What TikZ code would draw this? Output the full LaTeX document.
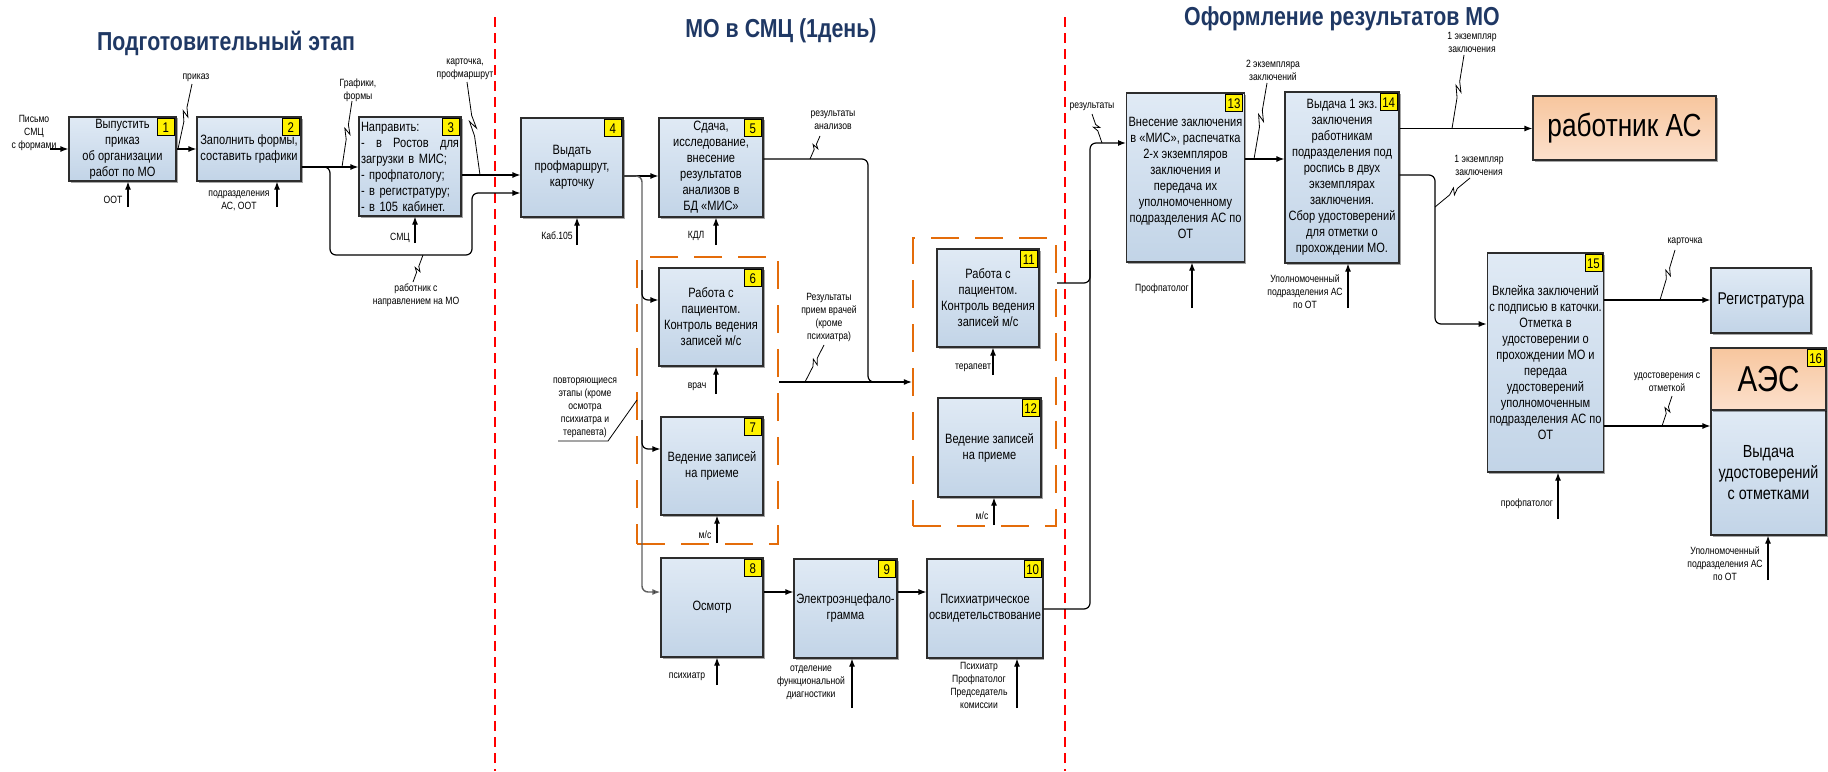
\documentclass[tikz,border=0pt]{standalone}
\usepackage{fontspec}
\setmainfont[FakeStretch=0.82]{Liberation Sans}
\usetikzlibrary{arrows.meta,calc,shadows}
\definecolor{boxtop}{RGB}{224,234,245}
\definecolor{boxbot}{RGB}{194,212,231}
\definecolor{peachtop}{RGB}{247,198,158}
\definecolor{peachbot}{RGB}{252,224,204}
\definecolor{titleblue}{RGB}{31,56,100}
\definecolor{grpor}{RGB}{228,108,10}
\definecolor{sepred}{RGB}{255,0,0}
\definecolor{branchgray}{RGB}{95,95,95}
\tikzset{
  box/.style={draw={rgb,255:red,45;green,45;blue,45}, line width=1.2pt, top color=boxtop, bottom color=boxbot,
    inner sep=2pt, align=center, font=\fontsize{13.5}{16}\selectfont,
    drop shadow={shadow xshift=1.5pt,shadow yshift=-1.5pt,opacity=0.35,fill=black}},
  peach/.style={box, top color=peachtop, bottom color=peachbot},
  badge/.style={draw, line width=0.8pt, fill=yellow, minimum width=17pt, minimum height=17pt, inner sep=1pt,
    font=\fontsize{14}{14}\selectfont, anchor=north east},
  lbl/.style={font=\fontsize{10.5}{13}\selectfont, align=center, inner sep=0pt},
  ttl/.style={font=\fontsize{26}{30}\bfseries\selectfont, text=titleblue, inner sep=0pt},
  ln/.style={line width=1.2pt},
  conn/.style={line width=1.2pt, -{Latex[length=8pt,width=6pt]}},
  rc/.style={rounded corners=6pt},
  brn/.style={line width=1.4pt, draw=branchgray},
  grp/.style={draw=grpor, line width=2.3pt, dash pattern=on 28pt off 16pt, inner sep=0pt},
  sepline/.style={draw=sepred, line width=2.2pt, dash pattern=on 10pt off 6pt},
  leader/.style={line width=0.8pt}
}
\newcommand{\squig}[2]{\draw[leader] #1 -- ($#1!0.42!#2$) -- ($#1!0.58!#2!3pt!90:#2$) -- ($#1!0.50!#2!3pt!-90:#2$) -- ($#1!0.64!#2$) -- #2;}
\newcommand{\bx}[5]{\node[box, minimum width=#3pt, minimum height=#4pt] (#1) at (#2) {#5};}
\newcommand{\badge}[3]{\node[badge] (#1) at ($(#2.north east)+(-2,2)$) {#3};}
\begin{document}
\begin{tikzpicture}[x=1pt,y=-1pt]
\useasboundingbox (0,0) rectangle (1828,771);
% separators
\draw[sepline] (495,17) -- (495,771);
\draw[sepline] (1065,17) -- (1065,771);
% titles
\node[ttl] (t1) at (226,43) {Подготовительный этап};
\node[ttl] (t2) at (781,31) {МО в СМЦ (1день)};
\node[ttl] (t3) at (1342,19) {Оформление результатов МО};
% groups
\node[grp, minimum width=141pt, minimum height=287pt] (g1) at (707.5,400.5) {};
\node[grp, minimum width=143pt, minimum height=288pt] (g2) at (984.5,382) {};
% boxes
\bx{b1}{122.5,149}{107}{64}{Выпустить\\приказ\\об организации\\работ по МО}
\bx{b2}{249,149}{104}{64}{Заполнить формы,\\составить графики}
\node[box, align=left, text width=98pt, minimum height=99pt] (b3) at (410,166.5)
  {Направить:\\-\hfill в\hfill Ростов\hfill для\\загрузки в МИС;\\- профпатологу;\\- в регистратуру;\\- в 105 кабинет.};
\bx{b4}{572,167.5}{102}{99}{Выдать\\профмаршрут,\\карточку}
\bx{b5}{711,167.5}{104}{99}{Сдача,\\исследование,\\внесение\\результатов\\анализов в\\БД «МИС»}
\bx{b6}{711,317}{104}{98}{Работа с\\пациентом.\\Контроль ведения\\записей м/с}
\bx{b7}{712,466}{102}{98}{Ведение записей\\на приеме}
\bx{b8}{712,607.5}{102}{99}{Осмотр}
\bx{b9}{845.5,608.5}{103}{99}{Электроэнцефало-\\грамма}
\bx{b10}{985,608.5}{114}{99}{Психиатрическое\\освидетельствование}
\bx{b11}{988,298}{102}{98}{Работа с\\пациентом.\\Контроль ведения\\записей м/с}
\bx{b12}{989.5,447.5}{103}{99}{Ведение записей\\на приеме}
\bx{b13}{1185.5,177.5}{115}{169}{Внесение заключения\\в «МИС», распечатка\\2-х экземпляров\\заключения и\\передача их\\уполномоченному\\подразделения АС по\\ОТ}
\bx{b14}{1342,177.5}{114}{171}{Выдача 1 экз.\\заключения\\работникам\\подразделения под\\роспись в двух\\экземплярах\\заключения.\\Сбор удостоверений\\для отметки о\\прохождении МО.}
\node[peach, minimum width=183pt, minimum height=64pt, font=\fontsize{32}{36}\selectfont] (was) at (1624.5,128) {работник АС};
\bx{b15}{1545.5,362.5}{115}{219}{Вклейка заключений\\с подписью в каточки.\\Отметка в\\удостоверении о\\прохождении МО и\\передаа\\удостоверений\\уполномоченным\\подразделения АС по\\ОТ}
\node[box, minimum width=100pt, minimum height=65pt, font=\fontsize{17}{20}\selectfont] (reg) at (1761,300.5) {Регистратура};
\node[box, minimum width=115pt, minimum height=125pt, font=\fontsize{17.5}{21}\selectfont] (b16b) at (1768.5,472.5) {Выдача\\удостоверений\\с отметками};
\node[peach, minimum width=115pt, minimum height=62pt, font=\fontsize{36}{40}\selectfont] (b16a) at (1768.5,379) {АЭС};
% badges
\badge{n1}{b1}{1}\badge{n2}{b2}{2}\badge{n3}{b3}{3}\badge{n4}{b4}{4}
\badge{n5}{b5}{5}\badge{n6}{b6}{6}\badge{n7}{b7}{7}\badge{n8}{b8}{8}
\badge{n9}{b9}{9}\badge{n10}{b10}{10}\badge{n11}{b11}{11}\badge{n12}{b12}{12}
\badge{n13}{b13}{13}\badge{n14}{b14}{14}\badge{n15}{b15}{15}\badge{n16}{b16a}{16}
% ---- stage 1
\coordinate (in1) at (50,149);
\draw[conn] (in1) -- (b1.west |- in1);
\node[lbl] (lin) at (34,133) {Письмо\\СМЦ\\с формами};
\draw[conn] (b1.east) -- (b2.west);
\squig{(178,149)}{(192,84)}
\node[lbl] (l1) at (196,78) {приказ};
\draw[conn] (128,207) -- (b1.south -| 128,0);
\node[lbl] (l2) at (113,200) {ООТ};
\draw[conn] (b2.east |- 0,167) -- (b3.west |- 0,167);
\draw[ln,rc,-{Latex[length=8pt,width=6pt]}] (b2.east |- 0,167) -| (330,255) -| (472,193) -- (b4.west |- 0,193);
\squig{(342,167)}{(352,101)}
\node[lbl] (l3) at (358,90) {Графики,\\формы};
\squig{(423,255)}{(413,282)}
\node[lbl] (l4) at (416,295) {работник с\\направлением на МО};
\draw[conn] (277,207) -- (b2.south -| 277,0);
\node[lbl] (l5) at (239,201) {подразделения\\АС, ООТ};
\draw[conn] (415,243) -- (b3.south -| 415,0);
\node[lbl] (l6) at (400,238) {СМЦ};
\draw[conn] (b3.east |- 0,175) -- (b4.west |- 0,175);
\squig{(480,175)}{(467,82)}
\node[lbl] (l7) at (465,69) {карточка,\\профмаршрут};
% ---- stage 2
\draw[conn] (577,245) -- (b4.south -| 577,0);
\node[lbl] (l8) at (557,236) {Каб.105};
\draw[conn] (b4.east |- 0,176) -- (b5.west |- 0,176);
\draw[brn,rc,-{Latex[length=8pt,width=6pt,fill=black]}] (b4.east |- 0,176) -| (642,592) -- (b8.west |- 0,592);
\draw[ln,rc,-{Latex[length=8pt,width=6pt]}] (642,270) |- (b6.west |- 0,300);
\draw[ln,rc,-{Latex[length=8pt,width=6pt]}] (642,420) |- (b7.west |- 0,449);
\draw[conn] (716,245) -- (b5.south -| 716,0);
\node[lbl] (l9) at (696,236) {КДЛ};
\draw[ln,rc] (b5.east |- 0,159) -| (868,382) -- (890,382);
\squig{(810,159)}{(820,136)}
\node[lbl] (l10) at (833,120) {результаты\\анализов};
\draw[conn] (g1.east |- 0,382) -- (g2.west |- 0,382);
\squig{(805,382)}{(824,345)}
\node[lbl] (l11) at (829,317) {Результаты\\прием врачей\\(кроме\\психиатра)};
\draw[conn] (716,394) -- (b6.south -| 716,0);
\node[lbl] (l12) at (697,387) {врач};
\draw[conn] (717,543) -- (b7.south -| 717,0);
\node[lbl] (l13) at (705,535) {м/с};
\node[lbl] (rep) at (585,408) {повторяющиеся\\этапы (кроме\\осмотра\\психиатра и\\терапевта)};
\draw[leader] (558,441) -- (608,441) -- (637,400);
\draw[conn] (993,375) -- (b11.south -| 993,0);
\node[lbl] (l14) at (973,368) {терапевт};
\draw[conn] (994,525) -- (b12.south -| 994,0);
\node[lbl] (l15) at (982,516) {м/с};
\draw[conn] (b8.east |- 0,592) -- (b9.west |- 0,592);
\draw[conn] (b9.east |- 0,592) -- (b10.west |- 0,592);
\draw[conn] (717,685) -- (b8.south -| 717,0);
\node[lbl] (l16) at (687,677) {психиатр};
\draw[conn] (852,708) -- (b9.south -| 852,0);
\node[lbl] (l17) at (811,683) {отделение\\функциональной\\диагностики};
\draw[conn] (1017,708) -- (b10.south -| 1017,0);
\node[lbl] (l18) at (979,685) {Психиатр\\Профпатолог\\Председатель\\комиссии};
% ---- stage 3
\draw[conn,rc] (g2.east |- 0,283) -| (1090,143) -- (b13.west |- 0,143);
\draw[ln,rc] (b10.east |- 0,609) -| (1090,250);
\squig{(1102,143)}{(1092,114)}
\node[lbl] (l19) at (1092,107) {результаты};
\draw[conn] (b13.east |- 0,159) -- (b14.west |- 0,159);
\squig{(1254,159)}{(1267,83)}
\node[lbl] (l20) at (1273,70) {2 экземпляра\\заключений};
\draw[conn] (1192,308) -- (b13.south -| 1192,0);
\node[lbl] (l21) at (1162,289) {Профпатолог};
\draw[conn] (1348,308) -- (b14.south -| 1348,0);
\node[lbl] (l22) at (1305,292) {Уполномоченный\\подразделения АС\\по ОТ};
\draw[conn] (b14.east |- 0,128.5) -- (was.west |- 0,128.5);
\squig{(1452,128.5)}{(1464,55)}
\node[lbl] (l23) at (1472,42) {1 экземпляр\\заключения};
\draw[conn,rc] (b14.east |- 0,175) -| (1435,324) -- (b15.west |- 0,324);
\squig{(1435,207)}{(1470,178)}
\node[lbl] (l24) at (1479,165) {1 экземпляр\\заключения};
\draw[conn] (b15.east |- 0,300) -- (reg.west |- 0,300);
\squig{(1660,300)}{(1675,250)}
\node[lbl] (l25) at (1685,242) {карточка};
\draw[conn] (b15.east |- 0,426) -- (b16b.west |- 0,426);
\squig{(1662,426)}{(1672,396)}
\node[lbl] (l26) at (1667,382) {удостоверения с\\отметкой};
\draw[conn] (1558,519) -- (b15.south -| 1558,0);
\node[lbl] (l27) at (1527,504) {профпатолог};
\draw[conn] (1768,580) -- (b16b.south -| 1768,0);
\node[lbl] (l28) at (1725,564) {Уполномоченный\\подразделения АС\\по ОТ};
\end{tikzpicture}
\end{document}
